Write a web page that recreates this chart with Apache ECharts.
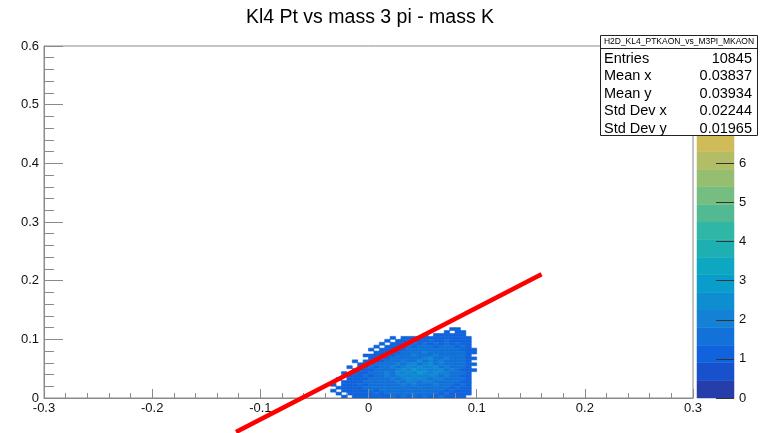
<!DOCTYPE html>
<html>
<head>
<meta charset="utf-8">
<script src="https://cdn.jsdelivr.net/npm/echarts@6/dist/echarts.min.js"></script>
<style>
html,body{margin:0;padding:0;background:#fff;}
#main{width:761px;height:433px;}
</style>
</head>
<body>
<div id="main"></div>
<script>
//bin layout of the 2D histogram (lower edges)
var binW = 0.005;
var binH = 0.005;
var xBins = [-0.04,-0.035,-0.03,-0.025,-0.02,-0.015,-0.01,-0.005,0,0.005,0.01,0.015,0.02,0.025,0.03,0.035,0.04,0.045,0.05,0.055,0.06,0.065,0.07,0.075,0.08,0.085,0.09,0.095];
//rows from top (y=0.115) to bottom (y=0)
var yBins = [0.115,0.11,0.105,0.1,0.095,0.09,0.085,0.08,0.075,0.07,0.065,0.06,0.055,0.05,0.045,0.04,0.035,0.03,0.025,0.02,0.015,0.01,0.005,0];
var counts = [
	[0,0,0,0,0,0,0,0,0,0,0,0,0,0,0,0,0,0,0,0,0,0,0,1,1,0,0,0],
	[0,0,0,0,0,0,0,0,0,0,0,0,0,0,0,0,0,0,0,0,0,0,1,0,1,1,0,0],
	[0,0,0,0,0,0,0,0,0,0,0,0,0,0,0,0,0,0,1,0,1,1,1,1,1,1,0,0],
	[0,0,0,0,0,0,0,0,0,0,0,0,1,0,1,1,1,1,1,1,1,1,1,1,1,1,1,0],
	[0,0,0,0,0,0,0,0,0,0,0,1,0,1,1,1,1,1,1,1.5,1,1,1.5,1,1,1,1,0],
	[0,0,0,0,0,0,0,0,0,0,1,0,1,1,1,1,1.5,1,1.5,1,1.5,1,1.5,1,1.5,1,1,0],
	[0,0,0,0,0,0,0,0,0,1,0,1,1,1,1,1.5,1,1.5,1.5,1.5,1,1.5,1.5,1.5,1,1.5,1,0],
	[0,0,0,0,0,0,0,0,1,0,1,1,1,1.5,1,1.5,1.5,1.5,1.5,1.5,1.5,1.5,1.5,1.5,1.5,1,1,1],
	[0,0,0,0,0,0,0,0,0,1,1,1,1.5,1,1.5,1.5,1.5,1.5,2,1.5,1.5,1.5,1.5,1.5,1.5,1.5,1,1],
	[0,0,0,0,0,0,0,1,1,1,1,1.5,1,1.5,1.5,1.5,2,1.5,1.5,1.5,2,1.5,1.5,1.5,1.5,1.5,1,0],
	[0,0,0,0,0,0,0,0,1,1,1.5,1,1.5,1.5,1.5,1.5,1.5,1.5,2,2.5,1.5,1.5,2,1.5,1.5,1.5,1,1],
	[0,0,0,0,0,1,0,1,1,1,1,1.5,1.5,1.5,2,1.5,1.5,2.5,1.5,2,1.5,2,1.5,1.5,1.5,1.5,1,0],
	[0,0,0,0,0,0,1,1,1,1.5,1.5,1.5,1.5,2,1.5,2,2.5,1.5,2,2.5,1.5,2,1.5,1.5,1.5,1.5,1,1],
	[0,0,0,0,1,0,1,1,1.5,1,1.5,1.5,2,1.5,2,2.5,2,2.5,2,2,2.5,1.5,2,1.5,1.5,1.5,1,0],
	[0,0,0,0,0,1,1,1,1,1.5,1.5,1.5,1.5,2,2.5,2,3,2,2.5,2,2,2.5,1.5,2,1.5,1,1,1],
	[0,0,0,1,0,1,1,1,1.5,1.5,1.5,2,1.5,2.5,2,2.5,2,3,2.5,2,2.5,2,2,1.5,1.5,1.5,1,0],
	[0,0,0,0,1,1,1,1.5,1,1.5,1.5,2,1.5,2,2.5,2,2.5,2,2,2.5,2,1.5,2,1.5,1.5,1,1,0],
	[0,0,1,0,1,1,1,1,1.5,1.5,1.5,1.5,2,1.5,2,2.5,2,2.5,2,1.5,2,2,1.5,1.5,1.5,1.5,1,0],
	[0,0,0,1,1,1,1,1.5,1.5,1.5,1.5,1.5,1.5,2,1.5,2,2,1.5,2,2,1.5,1.5,1.5,1.5,1.5,1,1,0],
	[0,1,0,1,1,1,1.5,1,1.5,1.5,1.5,1.5,1.5,1.5,2,1.5,2,1.5,1.5,1.5,2,1.5,1.5,1.5,1,1.5,1,0],
	[0,0,1,1,1,1,1,1.5,1.5,1.5,1.5,1.5,1.5,1.5,1.5,1.5,1.5,1.5,1.5,1.5,1.5,1.5,1.5,1,1.5,1,1,0],
	[0,1,0,1,1,1,1,1,1.5,1,1.5,1.5,1.5,1.5,1.5,1.5,1.5,1.5,1.5,1.5,1.5,1.5,1,1.5,1,1,1,0],
	[0,0,1,0,1,1,1,1,1,1.5,1,1.5,1.5,1.5,1.5,1.5,1.5,1.5,1.5,1.5,1.5,1,1.5,1,1,1,1,0],
	[0,0,0,1,0,1,1,1,1,1,1,1,1.5,1,1.5,1,1.5,1,1.5,1,1,1.5,1,1,1,1,0,0]
];
//red cut line
var lineX = [-0.1225, 0.16];
var lineY = [-0.058, 0.211];
//stats box
var statsName = 'H2D_KL4_PTKAON_vs_M3PI_MKAON';
var statsLabels = ['Entries','Mean x','Mean y','Std Dev x','Std Dev y'];
var statsValues = ['10845','0.03837','0.03934','0.02244','0.01965'];
//z range of palette
var zMax = 9;
var nBands = 20;

//kBird palette
var birdStops = [
	[0,[0.2082,0.1664,0.5293]],[0.125,[0.0592,0.3599,0.8684]],[0.25,[0.0780,0.5041,0.8385]],
	[0.375,[0.0232,0.6419,0.7914]],[0.5,[0.1802,0.7178,0.6425]],[0.625,[0.5301,0.7492,0.4662]],
	[0.75,[0.8186,0.7328,0.3499]],[0.875,[0.9956,0.7862,0.1968]],[1,[0.9764,0.9832,0.0539]]
];
function bird(f){
	for(var i=1;i<birdStops.length;i++){
		if(f<=birdStops[i][0]){
			var a=birdStops[i-1], b=birdStops[i];
			var t=(f-a[0])/(b[0]-a[0]);
			var c=[0,1,2].map(function(k){ return Math.round(255*(a[1][k]+(b[1][k]-a[1][k])*t)); });
			return 'rgb('+c.join(',')+')';
		}
	}
	return 'rgb(249,251,14)';
}
function bandOf(v){
	var i=Math.floor(v*nBands/zMax+0.01);
	return Math.max(0,Math.min(nBands-1,i));
}
function zColor(v){
	return bird((bandOf(v)+0.99)/nBands);
}

//build cell list
var cells = [];
yBins.forEach(function(y,r){
	xBins.forEach(function(x,c){
		var v = counts[r][c];
		if(v>0) cells.push([x,y,v]);
	});
});
var bands = [];
for(var b=0;b<nBands;b++){
	bands.push([b*zMax/nBands,(b+1)*zMax/nBands]);
}

var font = 'Liberation Sans, Arial, Helvetica, sans-serif';
var axisGray = '#8a8a8a';

var myChart = echarts.init(document.getElementById('main'));

var graphics = [
	{type:'text',z:100,x:370,y:18,style:{text:'Kl4 Pt vs mass 3 pi - mass K',font:'19.5px '+font,fill:'#000',textAlign:'center',textVerticalAlign:'middle'}},
	{type:'rect',z:100,shape:{x:600.5,y:35.5,width:157,height:100},style:{fill:'#fff',stroke:'#222',lineWidth:1}},
	{type:'line',z:101,shape:{x1:600,y1:48.5,x2:758,y2:48.5},style:{stroke:'#222',lineWidth:1}},
	{type:'text',z:101,x:679,y:42,style:{text:statsName,font:'8.5px '+font,fill:'#000',textAlign:'center',textVerticalAlign:'middle'}}
];
statsLabels.forEach(function(l,i){
	var yy = 58.5 + i*17.5;
	graphics.push({type:'text',z:101,x:604,y:yy,style:{text:l,font:'14.5px '+font,fill:'#000',textVerticalAlign:'middle'}});
	graphics.push({type:'text',z:101,x:752,y:yy,style:{text:statsValues[i],font:'14.5px '+font,fill:'#000',textAlign:'right',textVerticalAlign:'middle'}});
});

var option = {
	backgroundColor:'#fff',
	animation:false,
	grid:[
		{left:44,top:46,width:649,height:352,show:true,borderColor:axisGray,borderWidth:1},
		{left:697,top:46,width:37,height:352}
	],
	xAxis:[
		{
			type:'value',gridIndex:0,min:-0.3,max:0.3,interval:0.1,z:10,
			axisLine:{onZero:false,lineStyle:{color:axisGray}},
			axisTick:{inside:true,length:9,lineStyle:{color:axisGray}},
			minorTick:{show:true,splitNumber:5,length:5,lineStyle:{color:axisGray}},
			splitLine:{show:false},
			axisLabel:{fontFamily:font,fontSize:13,color:'#111',margin:4,showMinLabel:true,showMaxLabel:true}
		},
		{type:'value',gridIndex:1,min:0,max:1,show:false}
	],
	yAxis:[
		{
			type:'value',gridIndex:0,min:0,max:0.6,interval:0.1,z:10,
			axisLine:{show:true,onZero:false,lineStyle:{color:axisGray}},
			axisTick:{show:true,inside:true,length:19,lineStyle:{color:axisGray}},
			minorTick:{show:true,splitNumber:5,length:10,lineStyle:{color:axisGray}},
			splitLine:{show:false},
			axisLabel:{fontFamily:font,fontSize:13,color:'#111',margin:5}
		},
		{
			type:'value',gridIndex:1,min:0,max:zMax,interval:1,position:'right',z:10,
			axisLine:{show:false,onZero:false},
			axisTick:{show:true,inside:true,length:18,lineStyle:{color:'#333'}},
			splitLine:{show:false},
			axisLabel:{fontFamily:font,fontSize:13,color:'#111',margin:5}
		}
	],
	series:[
		{
			type:'custom',xAxisIndex:0,yAxisIndex:0,
			data:cells,
			encode:{x:0,y:1},
			renderItem:function(params,api){
				var p0=api.coord([api.value(0),api.value(1)]);
				var p1=api.coord([api.value(0)+binW,api.value(1)+binH]);
				var col=zColor(api.value(2));
				return {type:'rect',shape:{x:p0[0],y:p1[1],width:p1[0]-p0[0],height:p0[1]-p1[1]},
					style:{fill:col,stroke:col,lineWidth:0.6}};
			}
		},
		{
			type:'line',xAxisIndex:0,yAxisIndex:0,
			data:lineX.map(function(x,i){ return [x,lineY[i]]; }),
			symbol:'none',clip:false,z:20,
			lineStyle:{color:'#ff0000',width:4.5}
		},
		{
			type:'custom',xAxisIndex:1,yAxisIndex:1,
			data:bands,
			renderItem:function(params,api){
				var p0=api.coord([0,api.value(0)]);
				var p1=api.coord([1,api.value(1)]);
				var col=zColor((api.value(0)+api.value(1))/2);
				return {type:'rect',shape:{x:p0[0],y:p1[1],width:p1[0]-p0[0],height:p0[1]-p1[1]},
					style:{fill:col,stroke:col,lineWidth:0.5}};
			}
		}
	],
	graphic:graphics
};
myChart.setOption(option);
</script>
</body>
</html>
